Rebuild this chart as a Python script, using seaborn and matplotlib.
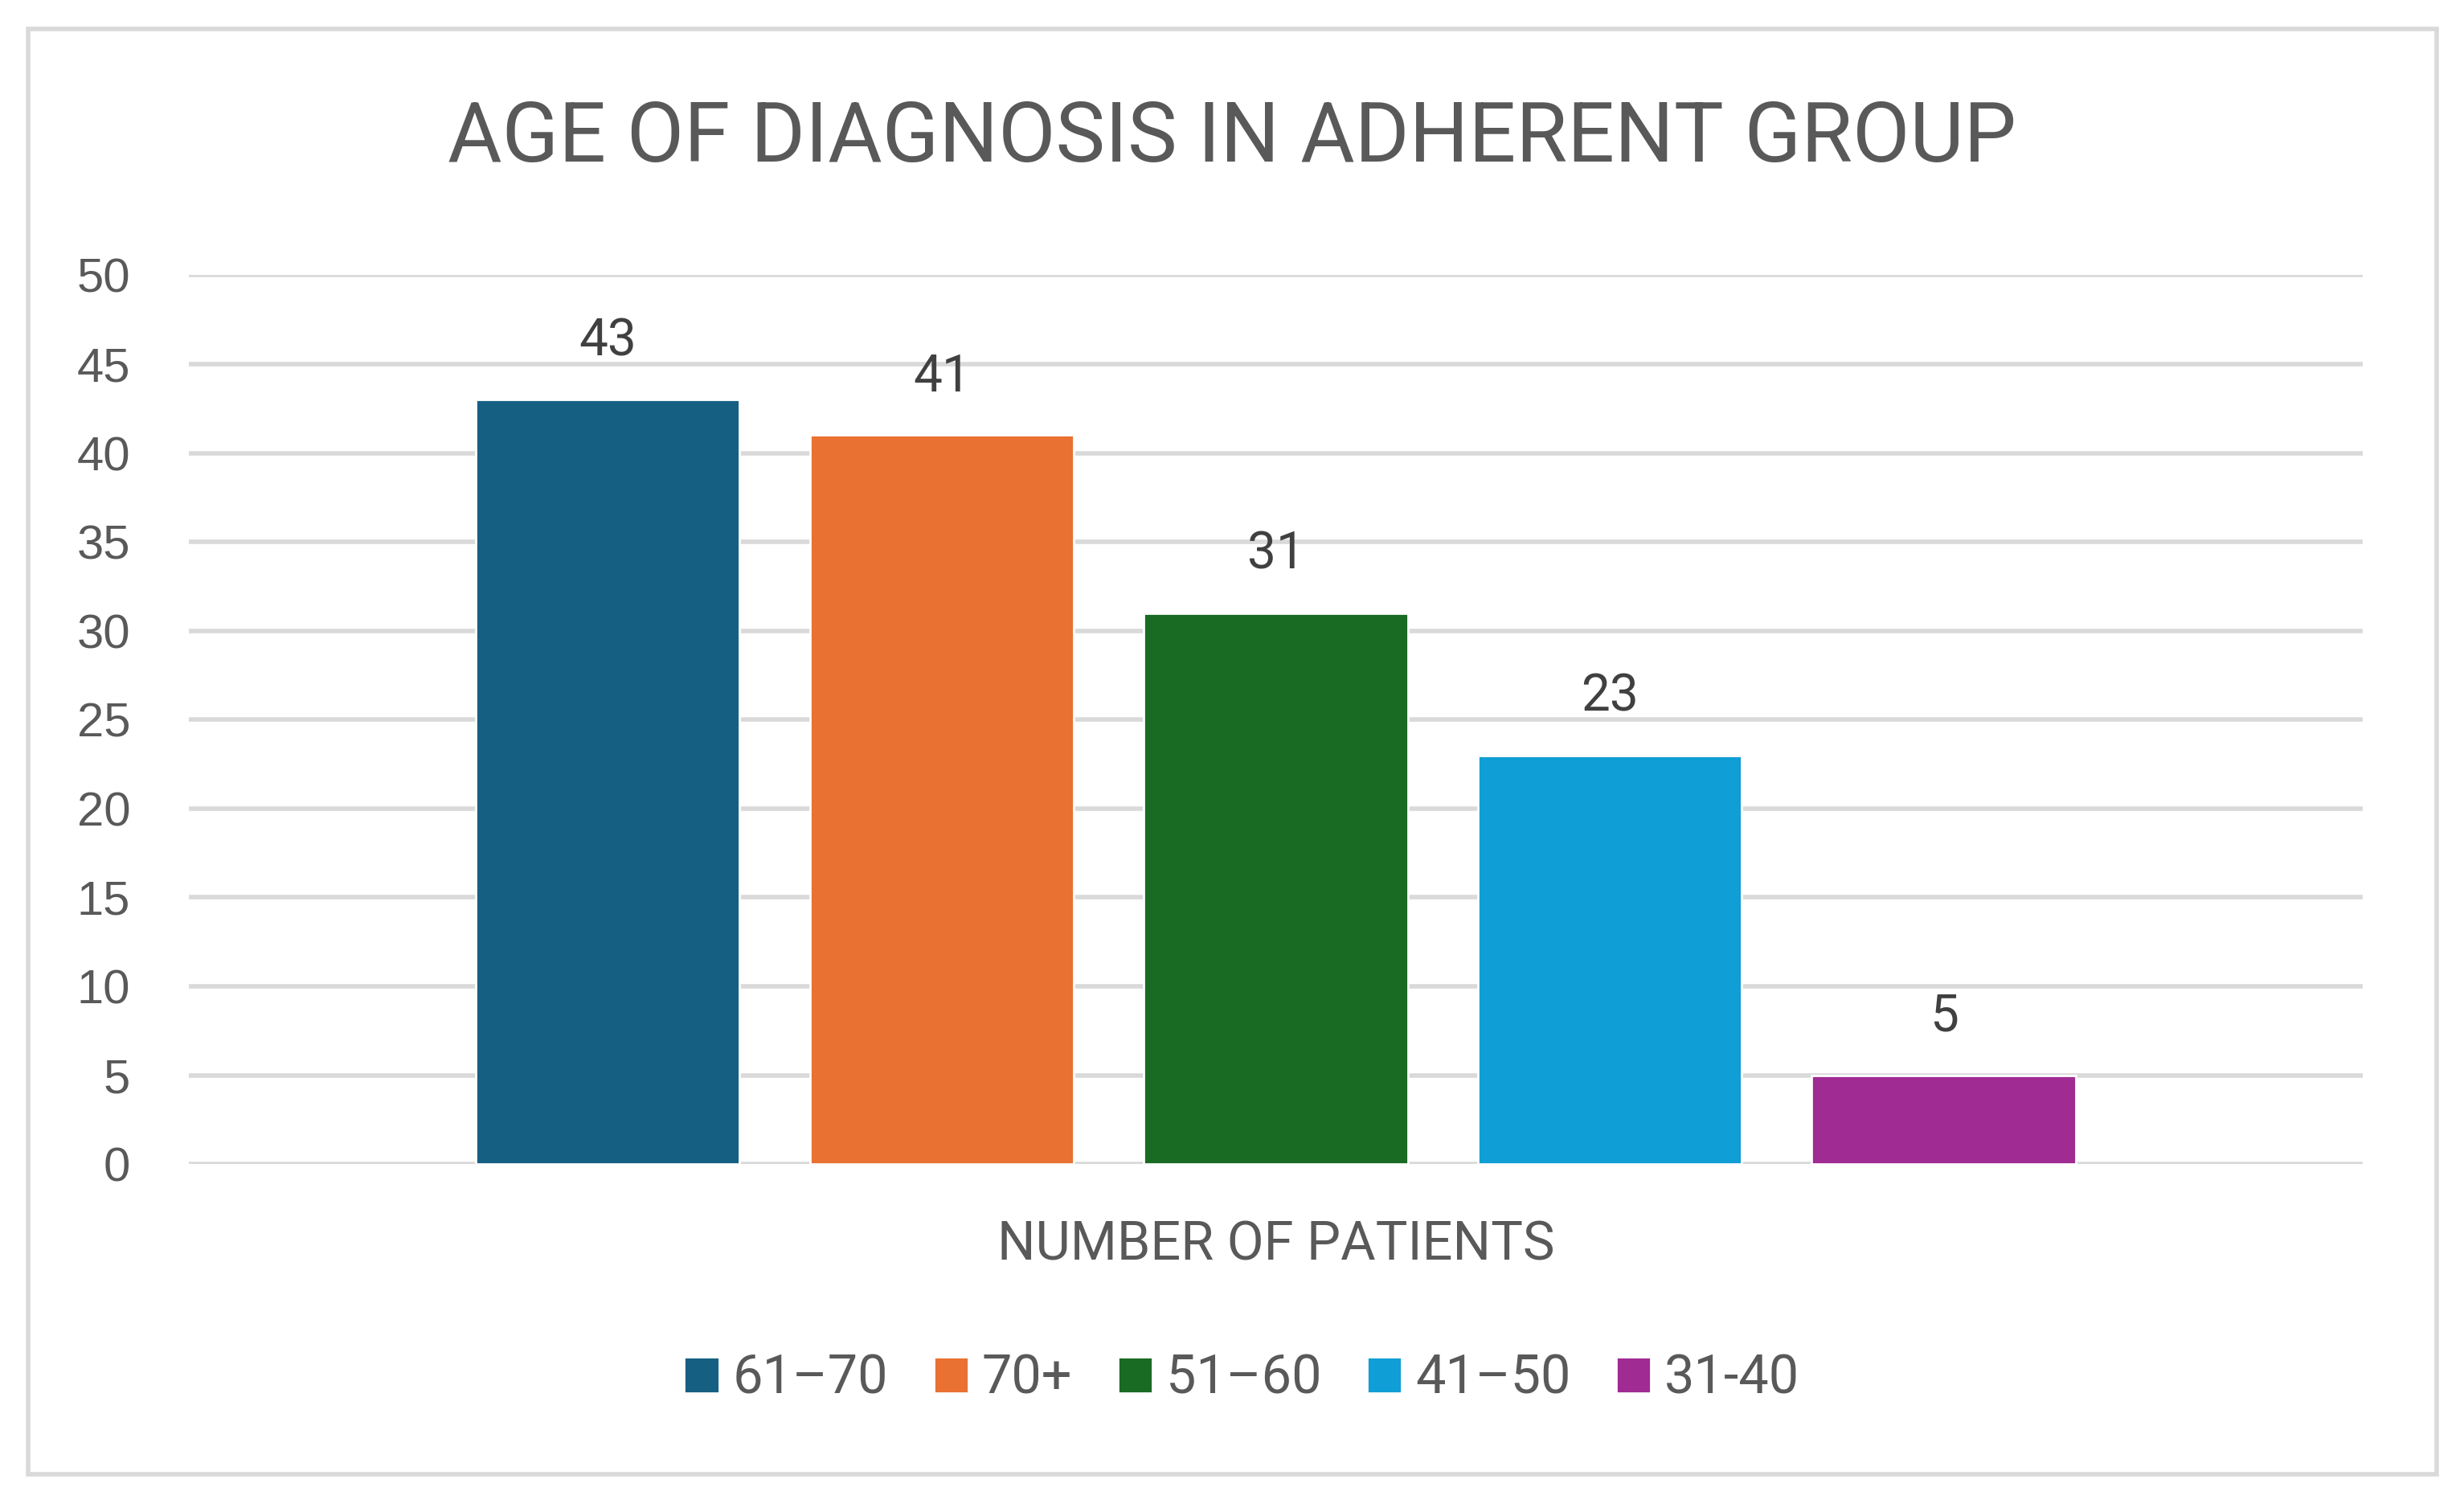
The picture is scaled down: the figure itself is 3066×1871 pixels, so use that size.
import matplotlib
matplotlib.use("Agg")
import matplotlib.pyplot as plt
import seaborn as sns
import pandas as pd
from matplotlib.patches import Rectangle

# 数据
categories = ["NUMBER OF PATIENTS"] * 5
age_groups = ["61\u201370", "70+", "51\u201360", "41\u201350", "31-40"]
patients = [43, 41, 31, 23, 5]
colors = ["#156082", "#E97132", "#196B24", "#0F9ED5", "#A02B93"]

df = pd.DataFrame({"cat": categories, "age": age_groups, "n": patients})

sns.set_theme(style="white")
plt.rcParams['font.family'] = ['Liberation Sans', 'DejaVu Sans']
narrow = ['Roboto', 'DejaVu Sans']
text_col = "#595959"
grid_col = "#D9D9D9"

fig = plt.figure(figsize=(15.33, 9.355), dpi=200)
ax = fig.add_axes([0.0765, 0.226, 0.8825, 0.591])

sns.barplot(data=df, x="cat", y="n", hue="age", hue_order=age_groups,
            palette=colors, width=0.768, gap=0.21, ax=ax, saturation=1,
            legend=True)

ax.set_ylim(0, 50)
ax.set_xlim(-0.5, 0.5)
ax.set_yticks(range(0, 51, 5))
ax.yaxis.grid(True, color=grid_col, linewidth=2)
ax.set_axisbelow(True)
for s in ax.spines.values():
    s.set_visible(False)
ax.tick_params(axis="y", length=0, pad=26, labelsize=21.5, labelcolor=text_col)
ax.tick_params(axis="x", length=0, pad=25, labelsize=24, labelcolor=text_col)
for t in ax.get_xticklabels():
    t.set_family(narrow)
ax.set_xlabel("")
ax.set_ylabel("")

for c in ax.containers:
    ax.bar_label(c, padding=15, fontsize=23, color="#404040", family=narrow)

# 图例
handles, labels = ax.get_legend_handles_labels()
ax.get_legend().remove()
fig.legend(handles, labels, loc="center", bbox_to_anchor=(0.504, 0.083), ncol=5,
           frameon=False, prop={'family': narrow, 'size': 24}, labelcolor=text_col,
           handlelength=0.65, handleheight=0.65, handletextpad=0.25, columnspacing=0.85)

fig.text(0.5, 0.908, "AGE OF DIAGNOSIS IN ADHERENT GROUP", ha="center", va="center",
         fontsize=37.3, color=text_col, family=narrow)

# 外框
fig.patches.append(Rectangle((0.0115, 0.02), 0.9775, 0.961, transform=fig.transFigure,
                             fill=False, edgecolor=grid_col, linewidth=2))

fig.savefig("out.png", dpi=200, facecolor="white")
